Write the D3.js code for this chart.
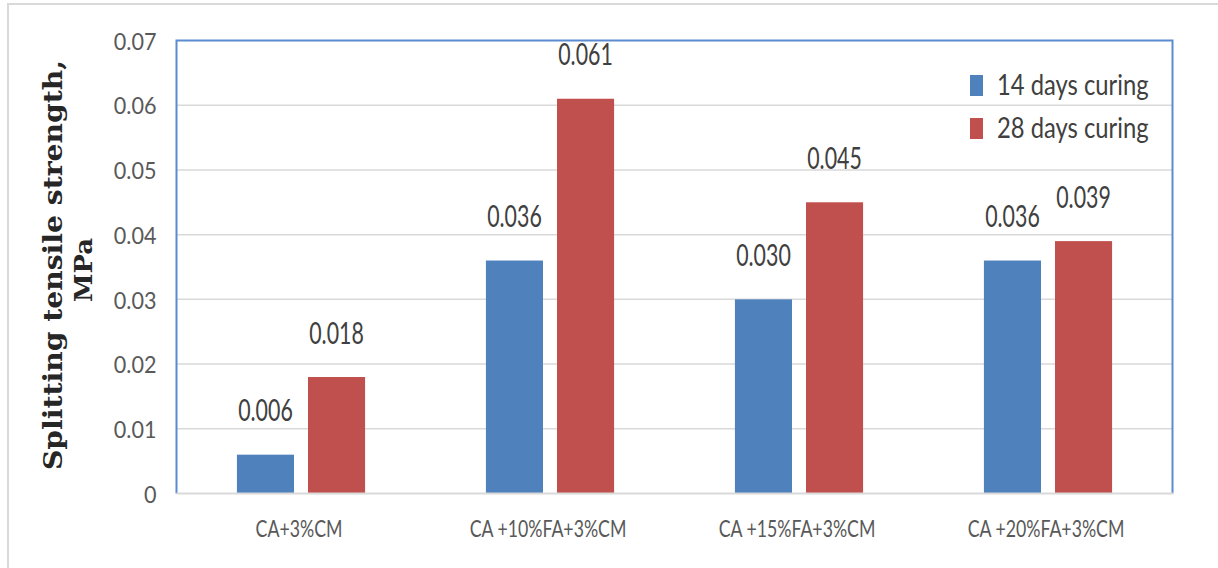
<!DOCTYPE html>
<html>
<head>
<meta charset="utf-8">
<script src="https://cdn.jsdelivr.net/npm/d3@7"></script>
<style>
  html, body { margin: 0; padding: 0; background: #fff; }
  svg { display: block; }
</style>
</head>
<body>
<svg id="chart" width="1218" height="568"></svg>
<script>
// Splitting tensile strength of the mixes after 14 and 28 days of curing
const categories = ["CA+3%CM", "CA +10%FA+3%CM", "CA +15%FA+3%CM", "CA +20%FA+3%CM"];
const seriesNames = ["14 days curing", "28 days curing"];
const days14 = [0.006, 0.036, 0.030, 0.036];
const days28 = [0.018, 0.061, 0.045, 0.039];
const yTicks = [0, 0.01, 0.02, 0.03, 0.04, 0.05, 0.06, 0.07];
const colors = ["#4f81bd", "#c0504d"];

const svg = d3.select("#chart");
const plot = { left: 176.5, right: 1172.5, top: 40.5, bottom: 493.5 };
const font = "Lato, 'Open Sans', sans-serif";

// outer frame
svg.append("path")
  .attr("d", `M8,570 V4 H1220`)
  .attr("fill", "none").attr("stroke", "#d9d9d9").attr("stroke-width", 2);

const y = d3.scaleLinear().domain([0, 0.07]).range([plot.bottom, plot.top]);
const x0 = d3.scaleBand().domain(categories).range([plot.left, plot.right]);
const x1 = d3.scaleBand().domain(seriesNames).range([0, x0.bandwidth()])
  .paddingInner(0.197).paddingOuter(0.85);

// gridlines
svg.append("g")
  .selectAll("line").data(yTicks.slice(1, -1)).join("line")
  .attr("x1", plot.left).attr("x2", plot.right)
  .attr("y1", d => y(d)).attr("y2", d => y(d))
  .attr("stroke", "#d9d9d9").attr("stroke-width", 1.5);

// y tick labels
const yAxis = d3.axisLeft(y).tickValues(yTicks)
  .tickFormat(d => d === 0 ? "0" : d3.format(".2f")(d))
  .tickSize(0).tickPadding(0);
const yg = svg.append("g").attr("transform", `translate(${plot.left - 20},0)`).call(yAxis);
yg.select(".domain").remove();
yg.selectAll("text")
  .attr("font-family", font).attr("font-size", 24).attr("fill", "#595959")
  .attr("dy", "0.36em").attr("x", 0)
  .attr("transform", "scale(0.9,1)");

// bars
const rows = categories.map((c, i) => ({ cat: c, vals: [days14[i], days28[i]] }));
const groups = svg.append("g").selectAll("g").data(rows).join("g")
  .attr("transform", d => `translate(${x0(d.cat)},0)`);

groups.selectAll("rect").data(d => d.vals.map((v, k) => ({ v, s: seriesNames[k], k })))
  .join("rect")
  .attr("x", d => x1(d.s)).attr("width", x1.bandwidth())
  .attr("y", d => y(d.v)).attr("height", d => y(0) - y(d.v))
  .attr("fill", d => colors[d.k]);

// value labels
groups.selectAll("text.val").data(d => d.vals.map((v, k) => ({ v, s: seriesNames[k], k })))
  .join("text").attr("class", "val")
  .attr("transform", d => `translate(${x1(d.s) + x1.bandwidth() / 2},${y(d.v) - 33.5}) scale(0.69,1)`)
  .attr("text-anchor", "middle")
  .attr("font-family", font).attr("font-size", 31).attr("fill", "#404040")
  .text(d => d3.format(".3f")(d.v));

// plot border (blue) and category axis line
svg.append("path")
  .attr("d", `M${plot.left},${plot.bottom} V${plot.top} H${plot.right} V${plot.bottom}`)
  .attr("fill", "none").attr("stroke", "#5b8bd0").attr("stroke-width", 2);
svg.append("line")
  .attr("x1", plot.left).attr("x2", plot.right + 1)
  .attr("y1", plot.bottom).attr("y2", plot.bottom)
  .attr("stroke", "#d9d9d9").attr("stroke-width", 2);

// category labels
svg.append("g").selectAll("text").data(categories).join("text")
  .attr("transform", d => `translate(${x0(d) + x0.bandwidth() / 2 - 2},537) scale(0.77,1)`)
  .attr("text-anchor", "middle")
  .attr("font-family", font).attr("font-size", 23).attr("fill", "#595959")
  .text(d => d);

// legend
const legend = svg.append("g").selectAll("g").data(seriesNames).join("g")
  .attr("transform", (d, i) => `translate(970,${75 + i * 43})`);
legend.append("rect").attr("width", 13).attr("height", 21).attr("fill", (d, i) => colors[i]);
legend.append("text")
  .attr("transform", "translate(27,20) scale(0.85,1)")
  .attr("font-family", font).attr("font-size", 28).attr("fill", "#404040")
  .text(d => d);

// y-axis title
const title = svg.append("g").attr("font-family", "'DejaVu Serif', serif")
  .attr("font-weight", "bold").attr("fill", "#262626").attr("text-anchor", "middle");
title.append("text")
  .attr("transform", "translate(62,265) rotate(-90)")
  .attr("font-size", 26)
  .attr("textLength", 410).attr("lengthAdjust", "spacingAndGlyphs")
  .text("Splitting tensile strength,");
title.append("text")
  .attr("transform", "translate(92,270) rotate(-90)")
  .attr("font-size", 24)
  .attr("textLength", 64).attr("lengthAdjust", "spacingAndGlyphs")
  .text("MPa");
</script>
</body>
</html>
